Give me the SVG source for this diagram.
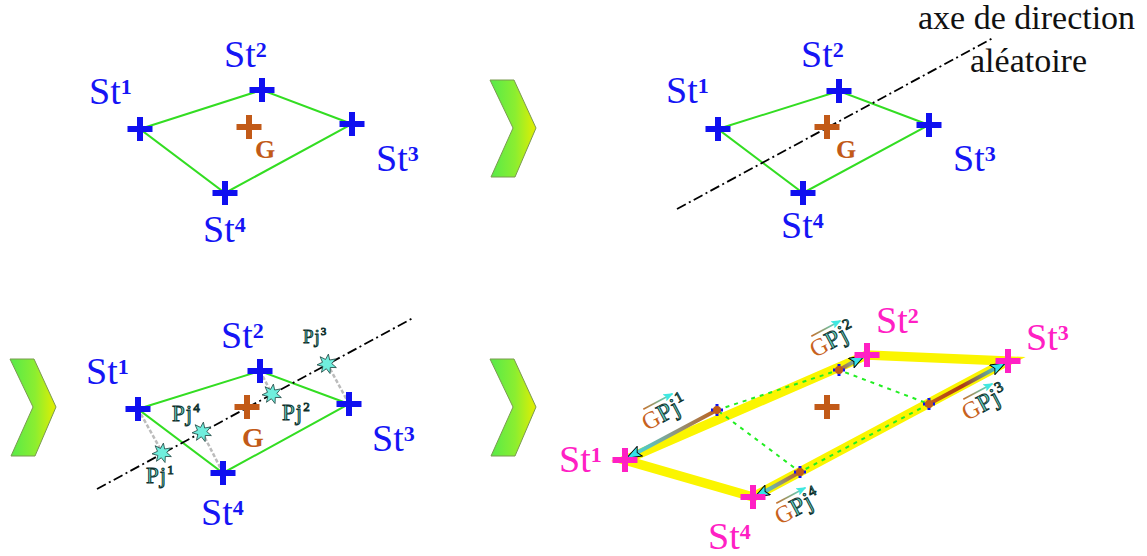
<svg xmlns="http://www.w3.org/2000/svg" xmlns:xlink="http://www.w3.org/1999/xlink" width="1147" height="556" viewBox="0 0 1147 556">
<style>
.st{font-family:"Liberation Serif","Times New Roman",serif;font-size:38px;fill:#1515f5}
.stm{font-family:"Liberation Serif","Times New Roman",serif;font-size:38px;fill:#ff20c4}
.sup{font-size:22px;font-weight:bold}
.g{font-family:"Liberation Serif","Times New Roman",serif;font-size:26px;font-weight:bold;fill:#c25a18}
.pj{font-family:"Liberation Serif","Times New Roman",serif;font-size:23px;fill:#5fd2c2;stroke:#0f2f2c;stroke-width:0.9;letter-spacing:1px}
.pjs{font-size:13px}
.gl{font-family:"Liberation Serif","Times New Roman",serif;font-size:24px;fill:#c8621e}
.bx{stroke:#1010f0;stroke-width:6;fill:none}
.brx{stroke:#c25a18;stroke-width:6;fill:none}
.mx{stroke:#ff20c4;stroke-width:6;fill:none}
.sx{stroke:#1010f0;stroke-width:3;fill:none}
.quad{stroke:#33dd22;stroke-width:2;fill:none}
.axis{stroke:#000;stroke-width:1.8;stroke-dasharray:10 3.5 2 3.5;fill:none}
.proj{stroke:#bcbcbc;stroke-width:2.5;stroke-dasharray:4 2;fill:none}
.yel{stroke:#fbf500;stroke-width:9.5;stroke-linecap:butt;fill:none}
.gdot{stroke:#22ee22;stroke-width:2;stroke-dasharray:4 5;fill:none}
.star{fill:#70eedd;stroke:#244a46;stroke-width:0.8}
.chev{fill:url(#chg);stroke:#7a9a50;stroke-width:1}
.vec{stroke-width:4;fill:none}
.ovl{stroke-width:1.6;fill:none}
</style>
<defs>
<linearGradient id="chg" x1="0" y1="0" x2="1" y2="0">
<stop offset="0" stop-color="#55ea4a"/>
<stop offset="0.55" stop-color="#8cee30"/>
<stop offset="1" stop-color="#e4ee00"/>
</linearGradient>
<linearGradient id="v1" gradientUnits="userSpaceOnUse" x1="717" y1="410" x2="628" y2="458"><stop offset="0" stop-color="#c0601a"/><stop offset="0.5" stop-color="#8a9a88"/><stop offset="1" stop-color="#33e2e8"/></linearGradient>
<linearGradient id="v2" gradientUnits="userSpaceOnUse" x1="839" y1="370" x2="862" y2="357"><stop offset="0" stop-color="#c0601a"/><stop offset="0.5" stop-color="#8a9a88"/><stop offset="1" stop-color="#33e2e8"/></linearGradient>
<linearGradient id="v3" gradientUnits="userSpaceOnUse" x1="929" y1="404" x2="1003" y2="364"><stop offset="0" stop-color="#c0601a"/><stop offset="0.45" stop-color="#b03a10"/><stop offset="1" stop-color="#33e2e8"/></linearGradient>
<linearGradient id="v4" gradientUnits="userSpaceOnUse" x1="800" y1="472" x2="757" y2="496"><stop offset="0" stop-color="#c0601a"/><stop offset="0.5" stop-color="#8a9a88"/><stop offset="1" stop-color="#33e2e8"/></linearGradient>
<linearGradient id="og" gradientUnits="userSpaceOnUse" x1="7" y1="0" x2="40" y2="0"><stop offset="0" stop-color="#c8702a"/><stop offset="1" stop-color="#40e8e0"/></linearGradient>
<marker id="ah" viewBox="0 0 16 12" refX="15" refY="6" markerWidth="16" markerHeight="12" markerUnits="userSpaceOnUse" orient="auto">
<path d="M0.5,0.5 L15.5,6 L0.5,11.5 L3.5,6 Z" fill="#33e2ea" stroke="#000" stroke-width="0.9"/>
</marker>
<marker id="ah2" viewBox="0 0 10 8" refX="9" refY="4" markerWidth="10" markerHeight="8" markerUnits="userSpaceOnUse" orient="auto">
<path d="M0,0 L10,4 L0,8 L2,4 Z" fill="#40e8e0"/>
</marker>
<path id="cr" d="M-12.5,0H12.5M0,-12V12"/>
<path id="crs" d="M-6,0H6M0,-6V6"/>
<polygon id="chevron" points="0,0 24,0 46,48 25,97 1,97 23,48"/>
<polygon id="st7" points="0,-10 2.08,-4.32 7.82,-6.23 4.68,-1.07 9.75,2.23 3.75,2.99 4.34,9.01 0,4.8 -4.34,9.01 -3.75,2.99 -9.75,2.23 -4.68,-1.07 -7.82,-6.23 -2.08,-4.32"/>
<g id="ovarrow"><line x1="7" y1="-21" x2="40" y2="-21" class="ovl" stroke="url(#og)" marker-end="url(#ah2)"/></g>
</defs>
<rect width="1147" height="556" fill="#fff"/>

<!-- chevrons -->
<g id="chevron1"><use xlink:href="#chevron" class="chev" transform="translate(490,80)"/></g>
<g id="chevron2"><use xlink:href="#chevron" class="chev" transform="translate(10,359)"/></g>
<g id="chevron3"><use xlink:href="#chevron" class="chev" transform="translate(490,359)"/></g>

<!-- connectors -->
<g id="connectors">
<polygon class="quad" points="140,129 262,90 352,124 225,193"/>
<polygon class="quad" points="718,129 839,91 929,125 803,193"/>
<line class="axis" x1="677" y1="209" x2="993" y2="38"/>
<polygon class="quad" points="138,409 260,371 349,404 223,473"/>
<line class="axis" x1="97" y1="489" x2="413" y2="318"/>
<line class="proj" x1="138" y1="409" x2="162" y2="452"/>
<line class="proj" x1="223" y1="473" x2="202" y2="432"/>
<line class="proj" x1="260" y1="371" x2="272" y2="394"/>
<line class="proj" x1="349" y1="404" x2="327" y2="363"/>
<polygon class="yel" points="625,460 867,355 1008,361 753,497"/>
<polyline class="gdot" points="717,410 839,370 929,404 800,472 717,410"/>
<line class="vec" x1="717" y1="410" x2="627" y2="458" stroke="url(#v1)" marker-end="url(#ah)"/>
<line class="vec" x1="839" y1="370" x2="864" y2="356" stroke="url(#v2)" marker-end="url(#ah)"/>
<line class="vec" x1="929" y1="404" x2="1005" y2="363" stroke="url(#v3)" marker-end="url(#ah)"/>
<line class="vec" x1="800" y1="472" x2="755" y2="497" stroke="url(#v4)" marker-end="url(#ah)"/>
</g>

<!-- panel 1 -->
<g id="p1-st1"><use xlink:href="#cr" class="bx" x="140" y="129"/><text class="st" x="89" y="104">St<tspan class="sup" dy="-10">1</tspan></text></g>
<g id="p1-st2"><use xlink:href="#cr" class="bx" x="262" y="90"/><text class="st" x="224" y="67">St<tspan class="sup" dy="-10">2</tspan></text></g>
<g id="p1-st3"><use xlink:href="#cr" class="bx" x="352" y="124"/><text class="st" x="376" y="171">St<tspan class="sup" dy="-10">3</tspan></text></g>
<g id="p1-st4"><use xlink:href="#cr" class="bx" x="225" y="193"/><text class="st" x="203" y="242">St<tspan class="sup" dy="-10">4</tspan></text></g>
<g id="p1-g"><use xlink:href="#cr" class="brx" x="249" y="127"/><text class="g" x="255" y="158">G</text></g>

<!-- panel 2 -->
<g id="p2-st1"><use xlink:href="#cr" class="bx" x="718" y="129"/><text class="st" x="666" y="103">St<tspan class="sup" dy="-10">1</tspan></text></g>
<g id="p2-st2"><use xlink:href="#cr" class="bx" x="839" y="91"/><text class="st" x="801" y="67">St<tspan class="sup" dy="-10">2</tspan></text></g>
<g id="p2-st3"><use xlink:href="#cr" class="bx" x="929" y="125"/><text class="st" x="953" y="171">St<tspan class="sup" dy="-10">3</tspan></text></g>
<g id="p2-st4"><use xlink:href="#cr" class="bx" x="803" y="193"/><text class="st" x="781" y="238">St<tspan class="sup" dy="-10">4</tspan></text></g>
<g id="p2-g"><use xlink:href="#cr" class="brx" x="827" y="127"/><text class="g" x="836" y="158">G</text></g>
<g id="p2-axis-label"><text font-family="Liberation Serif, Times New Roman, serif" font-size="34" fill="#111" x="918" y="29">axe de direction</text><text font-family="Liberation Serif, Times New Roman, serif" font-size="34" fill="#111" x="970" y="72">aléatoire</text></g>

<!-- panel 3 -->
<g id="p3-st1"><use xlink:href="#cr" class="bx" x="138" y="409"/><text class="st" x="86" y="384">St<tspan class="sup" dy="-10">1</tspan></text></g>
<g id="p3-st2"><use xlink:href="#cr" class="bx" x="260" y="371"/><text class="st" x="221" y="348">St<tspan class="sup" dy="-10">2</tspan></text></g>
<g id="p3-st3"><use xlink:href="#cr" class="bx" x="349" y="404"/><text class="st" x="372" y="451">St<tspan class="sup" dy="-10">3</tspan></text></g>
<g id="p3-st4"><use xlink:href="#cr" class="bx" x="223" y="473"/><text class="st" x="201" y="525">St<tspan class="sup" dy="-10">4</tspan></text></g>
<g id="p3-g"><use xlink:href="#cr" class="brx" x="247" y="407"/><text class="g" x="242" y="447" style="font-size:28px">G</text></g>
<g id="p3-pj1"><use xlink:href="#st7" class="star" transform="translate(162,453) rotate(8)"/><text class="pj" x="146" y="483">Pj<tspan class="pjs" dy="-9">1</tspan></text></g>
<g id="p3-pj4"><use xlink:href="#st7" class="star" transform="translate(202,432) rotate(8)"/><text class="pj" x="172" y="421">Pj<tspan class="pjs" dy="-9">4</tspan></text></g>
<g id="p3-pj2"><use xlink:href="#st7" class="star" transform="translate(272,394) rotate(8)"/><text class="pj" x="282" y="420">Pj<tspan class="pjs" dy="-9">2</tspan></text></g>
<g id="p3-pj3"><use xlink:href="#st7" class="star" transform="translate(327,364) rotate(8)"/><text class="pj" x="303" y="343" style="font-size:19px">Pj<tspan class="pjs" style="font-size:11px" dy="-8">3</tspan></text></g>

<!-- panel 4 -->
<g id="p4-st1"><use xlink:href="#cr" class="mx" x="625" y="460"/><text class="stm" x="559" y="472">St<tspan class="sup" dy="-10">1</tspan></text></g>
<g id="p4-st2"><use xlink:href="#cr" class="mx" x="867" y="355"/><text class="stm" x="876" y="333">St<tspan class="sup" dy="-10">2</tspan></text></g>
<g id="p4-st3"><use xlink:href="#cr" class="mx" x="1008" y="361"/><text class="stm" x="1026" y="350">St<tspan class="sup" dy="-10">3</tspan></text></g>
<g id="p4-st4"><use xlink:href="#cr" class="mx" x="753" y="497"/><text class="stm" x="708" y="549">St<tspan class="sup" dy="-10">4</tspan></text></g>
<g id="p4-g"><use xlink:href="#cr" class="brx" x="827" y="407"/></g>
<g id="p4-gpj1"><use xlink:href="#crs" class="sx" x="717" y="410"/><circle cx="717" cy="410" r="4" fill="#c25a18"/>
<g transform="rotate(-28 647 431) translate(647,431)"><use xlink:href="#ovarrow"/><text class="gl" x="0" y="0">G<tspan class="pj" style="font-size:25px">Pj</tspan><tspan class="pj pjs" style="font-size:15px" dy="-10">1</tspan></text></g></g>
<g id="p4-gpj2"><use xlink:href="#crs" class="sx" x="839" y="370"/><circle cx="839" cy="370" r="4" fill="#c25a18"/>
<g transform="rotate(-28 815 358) translate(815,358)"><use xlink:href="#ovarrow"/><text class="gl" x="0" y="0">G<tspan class="pj" style="font-size:25px">Pj</tspan><tspan class="pj pjs" style="font-size:15px" dy="-10">2</tspan></text></g></g>
<g id="p4-gpj3"><use xlink:href="#crs" class="sx" x="929" y="404"/><circle cx="929" cy="404" r="4" fill="#c25a18"/>
<g transform="rotate(-28 967 421) translate(967,421)"><use xlink:href="#ovarrow"/><text class="gl" x="0" y="0">G<tspan class="pj" style="font-size:25px">Pj</tspan><tspan class="pj pjs" style="font-size:15px" dy="-10">3</tspan></text></g></g>
<g id="p4-gpj4"><use xlink:href="#crs" class="sx" x="800" y="472"/><circle cx="800" cy="472" r="4" fill="#c25a18"/>
<g transform="rotate(-28 780 525) translate(780,525)"><use xlink:href="#ovarrow"/><text class="gl" x="0" y="0">G<tspan class="pj" style="font-size:25px">Pj</tspan><tspan class="pj pjs" style="font-size:15px" dy="-10">4</tspan></text></g></g>
</svg>
